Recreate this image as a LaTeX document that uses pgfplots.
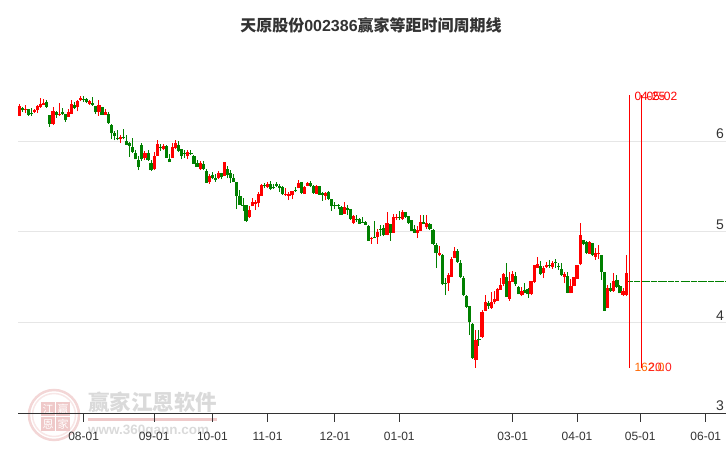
\documentclass[border=0pt]{standalone}
\usepackage{fontspec}
\usepackage{pgfplots}
\usepackage{pgfplotstable}
\pgfplotsset{compat=1.18}
\setmainfont{Liberation Sans}
\newfontfamily\cjk{Noto Sans CJK SC}
\definecolor{upred}{HTML}{FF0000}
\definecolor{downgreen}{HTML}{008000}
\definecolor{gridgray}{HTML}{E6E6E6}
\definecolor{txt}{HTML}{333333}
\definecolor{wmgray}{HTML}{DADADA}
\definecolor{wmpink}{HTML}{EFC9C9}

% d = trading day, h = high, t = body top, b = body bottom, l = low
\pgfplotstableread{
d h t b l
1 6.41 6.39 6.28 6.28
3 6.40 6.36 6.34 6.31
6 6.36 6.34 6.32 6.31
7 6.40 6.39 6.34 6.31
8 6.48 6.41 6.38 6.37
9 6.47 6.42 6.40 6.40
12 6.38 6.33 6.19 6.18
14 6.42 6.30 6.29 6.28
17 6.35 6.32 6.27 6.27
18 6.46 6.41 6.30 6.30
20 6.46 6.44 6.38 6.33
21 6.50 6.48 6.45 6.44
24 6.46 6.44 6.41 6.40
27 6.46 6.40 6.32 6.28
29 6.35 6.32 6.29 6.29
34 6.07 6.05 6.02 5.98
42 5.89 5.87 5.82 5.79
45 5.88 5.84 5.69 5.68
46 6.01 5.97 5.84 5.84
48 5.97 5.95 5.91 5.90
51 5.98 5.94 5.82 5.82
52 6.01 5.98 5.93 5.91
56 5.90 5.88 5.84 5.80
60 5.78 5.76 5.69 5.68
63 5.64 5.62 5.55 5.53
66 5.67 5.65 5.59 5.58
68 5.77 5.77 5.62 5.62
76 5.28 5.24 5.16 5.15
77 5.37 5.33 5.28 5.28
78 5.35 5.33 5.31 5.24
79 5.44 5.42 5.32 5.27
80 5.53 5.52 5.40 5.40
82 5.55 5.53 5.49 5.48
88 5.48 5.42 5.41 5.40
89 5.44 5.42 5.40 5.35
90 5.45 5.45 5.41 5.36
92 5.57 5.54 5.48 5.48
94 5.50 5.49 5.42 5.42
95 5.55 5.54 5.51 5.50
98 5.52 5.51 5.42 5.42
101 5.44 5.43 5.40 5.35
107 5.33 5.27 5.20 5.20
110 5.19 5.17 5.10 5.09
116 4.94 4.93 4.92 4.87
118 5.03 5.00 4.94 4.87
121 5.22 5.10 4.97 4.96
123 5.20 5.16 4.99 4.99
124 5.20 5.16 5.15 5.13
126 5.24 5.22 5.14 5.13
131 5.06 5.02 4.99 4.93
132 5.19 5.11 5.01 5.01
134 5.19 5.10 5.05 5.03
138 4.84 4.77 4.74 4.73
141 4.55 4.52 4.43 4.35
142 4.72 4.70 4.50 4.50
143 4.83 4.79 4.71 4.71
150 3.92 3.81 3.59 3.50
152 4.14 4.11 3.84 3.83
153 4.30 4.23 4.13 4.13
155 4.34 4.23 4.16 4.15
156 4.35 4.26 4.23 4.20
157 4.38 4.37 4.24 4.24
158 4.49 4.41 4.36 4.36
159 4.55 4.53 4.42 4.40
161 4.56 4.46 4.26 4.24
162 4.57 4.53 4.45 4.45
165 4.39 4.35 4.30 4.29
168 4.46 4.46 4.31 4.30
169 4.63 4.63 4.45 4.44
170 4.72 4.64 4.60 4.60
172 4.62 4.60 4.55 4.49
173 4.67 4.63 4.61 4.60
175 4.68 4.66 4.61 4.59
179 4.56 4.53 4.50 4.43
181 4.48 4.40 4.33 4.32
182 4.50 4.50 4.40 4.40
183 4.63 4.63 4.48 4.48
184 5.10 4.96 4.64 4.63
187 4.90 4.89 4.76 4.76
189 4.82 4.77 4.72 4.69
190 4.85 4.77 4.75 4.70
193 4.41 4.38 4.16 4.16
195 4.55 4.46 4.35 4.34
198 4.38 4.35 4.30 4.29
199 4.74 4.55 4.30 4.29
}\up

\pgfplotstableread{
d h t b l
2 6.38 6.37 6.34 6.32
4 6.35 6.35 6.29 6.28
5 6.37 6.31 6.30 6.28
10 6.46 6.43 6.38 6.37
11 6.29 6.29 6.19 6.16
13 6.33 6.32 6.29 6.26
15 6.37 6.32 6.30 6.29
16 6.30 6.30 6.23 6.21
19 6.43 6.40 6.37 6.36
22 6.50 6.47 6.46 6.43
23 6.48 6.47 6.43 6.42
25 6.49 6.42 6.40 6.39
26 6.39 6.39 6.32 6.30
28 6.38 6.38 6.29 6.29
30 6.32 6.30 6.20 6.19
31 6.19 6.18 6.09 6.02
32 6.11 6.09 6.06 6.01
33 6.12 6.04 6.02 6.01
35 6.14 6.05 6.03 6.02
36 6.07 6.00 5.96 5.96
37 5.99 5.98 5.95 5.83
38 6.03 5.94 5.88 5.87
39 5.90 5.87 5.80 5.80
40 5.84 5.79 5.72 5.68
41 5.98 5.96 5.80 5.78
43 5.90 5.87 5.79 5.78
44 5.79 5.76 5.68 5.67
47 5.97 5.94 5.93 5.89
49 5.96 5.95 5.82 5.82
50 5.86 5.80 5.77 5.77
53 6.00 5.96 5.89 5.88
54 5.91 5.91 5.84 5.80
55 5.90 5.87 5.86 5.82
57 5.90 5.87 5.86 5.85
58 5.85 5.84 5.75 5.75
59 5.79 5.76 5.72 5.72
61 5.78 5.75 5.69 5.68
62 5.69 5.67 5.54 5.54
64 5.66 5.63 5.59 5.58
65 5.64 5.59 5.57 5.55
67 5.65 5.65 5.60 5.58
69 5.73 5.69 5.63 5.59
70 5.68 5.65 5.59 5.54
71 5.64 5.59 5.55 5.55
72 5.55 5.55 5.39 5.25
73 5.46 5.40 5.30 5.30
74 5.37 5.30 5.29 5.23
75 5.30 5.30 5.12 5.11
81 5.54 5.52 5.50 5.48
83 5.56 5.53 5.47 5.46
84 5.53 5.49 5.48 5.47
85 5.55 5.53 5.51 5.49
86 5.53 5.51 5.48 5.44
87 5.51 5.49 5.42 5.41
91 5.49 5.46 5.45 5.44
93 5.55 5.55 5.43 5.42
96 5.56 5.54 5.50 5.49
97 5.52 5.51 5.43 5.42
99 5.51 5.50 5.41 5.41
100 5.44 5.43 5.41 5.34
102 5.45 5.44 5.36 5.35
103 5.36 5.36 5.28 5.23
104 5.33 5.30 5.28 5.25
105 5.31 5.30 5.28 5.25
106 5.28 5.27 5.19 5.19
108 5.30 5.26 5.24 5.19
109 5.25 5.25 5.14 5.13
111 5.19 5.14 5.13 5.11
112 5.15 5.14 5.09 5.09
113 5.16 5.11 5.10 5.10
114 5.12 5.11 5.08 5.07
115 5.07 5.06 4.90 4.90
117 5.12 4.94 4.93 4.93
119 5.08 5.03 5.02 4.95
120 5.08 5.04 4.97 4.95
122 5.09 5.09 4.99 4.90
125 5.23 5.16 5.15 5.13
127 5.22 5.22 5.16 5.15
128 5.17 5.17 5.10 5.09
129 5.13 5.13 5.01 5.01
130 5.07 5.03 4.99 4.99
133 5.19 5.11 5.09 5.09
135 5.10 5.09 5.03 5.02
136 5.03 5.02 4.87 4.85
137 4.88 4.85 4.77 4.60
139 4.75 4.74 4.42 4.41
140 4.49 4.44 4.43 4.30
144 4.81 4.79 4.67 4.66
145 4.69 4.66 4.50 4.49
146 4.51 4.49 4.30 4.29
147 4.30 4.29 4.17 4.16
148 4.18 4.18 4.00 3.86
149 3.99 3.98 3.61 3.60
151 3.92 3.82 3.81 3.74
154 4.24 4.21 4.18 4.15
160 4.66 4.50 4.28 4.28
163 4.56 4.51 4.42 4.40
164 4.40 4.39 4.31 4.31
166 4.43 4.36 4.33 4.32
167 4.38 4.37 4.31 4.27
171 4.68 4.62 4.53 4.52
174 4.69 4.63 4.62 4.60
176 4.70 4.67 4.66 4.60
177 4.66 4.62 4.61 4.58
178 4.66 4.59 4.52 4.51
180 4.56 4.51 4.33 4.32
185 4.91 4.91 4.86 4.85
186 4.90 4.89 4.77 4.76
188 4.88 4.88 4.74 4.73
191 4.74 4.74 4.56 4.47
192 4.56 4.56 4.13 4.13
194 4.43 4.38 4.35 4.34
196 4.52 4.47 4.39 4.38
197 4.41 4.40 4.32 4.32
200 4.48 4.46 4.45 4.36
}\down

\begin{document}
\begin{tikzpicture}
\path[use as bounding box] (0,0) rectangle (726bp,450bp);

% title and the watermark go under the axis, in image pixels
\begin{scope}[x=1bp,y=-1bp,shift={(0,450bp)}]
  \node[text=txt,font=\fontsize{16bp}{18bp}\selectfont\bfseries] at (371,25)
    {{\cjk 天原股份}002386{\cjk 赢家等距时间周期线}};
  \draw[wmpink!75,line width=2.5bp] (54,415) circle (25);
  \draw[wmpink!45,line width=1.5bp] (54,415) circle (21.5);
  \foreach \bx/\by/\ch in {41/402/江,56/402/赢,41/417/恩,56/417/家}{
    \fill[wmpink] (\bx,\by) rectangle ++(14,14);
    \node[text=white,font=\cjk\fontsize{11bp}{12bp}\selectfont] at (\bx+7,\by+7) {\ch};
  }
  \node[text=wmgray,anchor=west,inner sep=0pt,font=\cjk\fontsize{21.5bp}{23bp}\selectfont\bfseries] at (88,402) {赢家江恩软件};
  \fill[wmpink] (88,418) rectangle (217,421);
  \node[text=wmgray,anchor=west,inner sep=0pt,font=\fontsize{13.5bp}{15bp}\selectfont\bfseries] at (88,431) {www.360gann.com};
\end{scope}

\begin{axis}[
    at={(18bp,37bp)}, anchor=south west,
    scale only axis,
    width=708bp, height=413bp,
    xmin=0.576, xmax=231.6,
    ymin=3, ymax=7.5585,
    clip=false,
    axis x line*=bottom,
    axis y line*=right,
    axis line style={-},
    y axis line style={draw=none},
    x axis line style={txt,line width=1bp},
    xtick={22,45,64,82,104,125,162,183,203.6,225},
    xticklabels={08-01,09-01,10-01,11-01,12-01,01-01,03-01,04-01,05-01,06-01},
    xtick align=outside,
    major tick length=9bp,
    xtick style={txt,line width=1bp},
    xticklabel style={text=txt,font=\fontsize{12bp}{14bp}\selectfont,yshift=-7bp},
    ytick={3,4,5,6},
    ytick style={draw=none},
    ymajorgrids,
    grid style={gridgray,line width=1bp},
    yticklabel style={text=txt,font=\fontsize{14bp}{16bp}\selectfont,anchor=south east,inner sep=0pt,xshift=-2bp,yshift=2bp},
    /pgf/number format/assume math mode=true,
]
% wicks and bodies, both as error bars from the low end
\addplot[draw=none,mark=none,error bars/.cd,y dir=plus,y explicit,error mark=none,
  error bar style={color=downgreen,line width=1bp}]
  table[x=d,y=l,y error expr=\thisrow{h}-\thisrow{l}] {\down};
\addplot[draw=none,mark=none,error bars/.cd,y dir=plus,y explicit,error mark=none,
  error bar style={color=downgreen,line width=3.2bp}]
  table[x=d,y=b,y error expr=\thisrow{t}-\thisrow{b}] {\down};
\addplot[draw=none,mark=none,error bars/.cd,y dir=plus,y explicit,error mark=none,
  error bar style={color=upred,line width=1bp}]
  table[x=d,y=l,y error expr=\thisrow{h}-\thisrow{l}] {\up};
\addplot[draw=none,mark=none,error bars/.cd,y dir=plus,y explicit,error mark=none,
  error bar style={color=upred,line width=3.2bp}]
  table[x=d,y=b,y error expr=\thisrow{t}-\thisrow{b}] {\up};

\node[text=upred,anchor=west,inner sep=0pt,font=\fontsize{12bp}{14bp}\selectfont] at (axis cs:201.7,6.50) {04-25};
\node[text=upred,anchor=west,inner sep=0pt,font=\fontsize{12bp}{14bp}\selectfont] at (axis cs:205.6,6.50) {05-02};
\node[text=orange!80!red,anchor=west,inner sep=0pt,font=\fontsize{12bp}{14bp}\selectfont] at (axis cs:201.7,3.50) {162.0};
\node[text=red!85!pink,anchor=west,inner sep=0pt,font=\fontsize{12bp}{14bp}\selectfont] at (axis cs:206.2,3.50) {20.0};
\end{axis}

% time lines and the flat last price, in an overlay with the same limits
\begin{axis}[
    at={(18bp,37bp)}, anchor=south west,
    scale only axis, hide axis,
    width=708bp, height=413bp,
    xmin=0.576, xmax=231.6,
    ymin=3, ymax=7.5585,
]
\addplot[draw=downgreen,mark=none,line width=1bp,dash pattern=on 3bp off 0.4bp]
  coordinates {(200.4,4.455) (216.3,4.455)};
\addplot[draw=downgreen,mark=none,line width=1bp,dash pattern=on 3bp off 0.4bp]
  coordinates {(216.8,4.455) (231.6,4.455)};
\addplot[draw=upred,mark=none,line width=1bp] coordinates {(200.2,3.50) (200.2,6.51)};
\addplot[draw=upred,mark=none,line width=1bp] coordinates {(204.1,3.50) (204.1,6.51)};
\end{axis}
\end{tikzpicture}
\end{document}
